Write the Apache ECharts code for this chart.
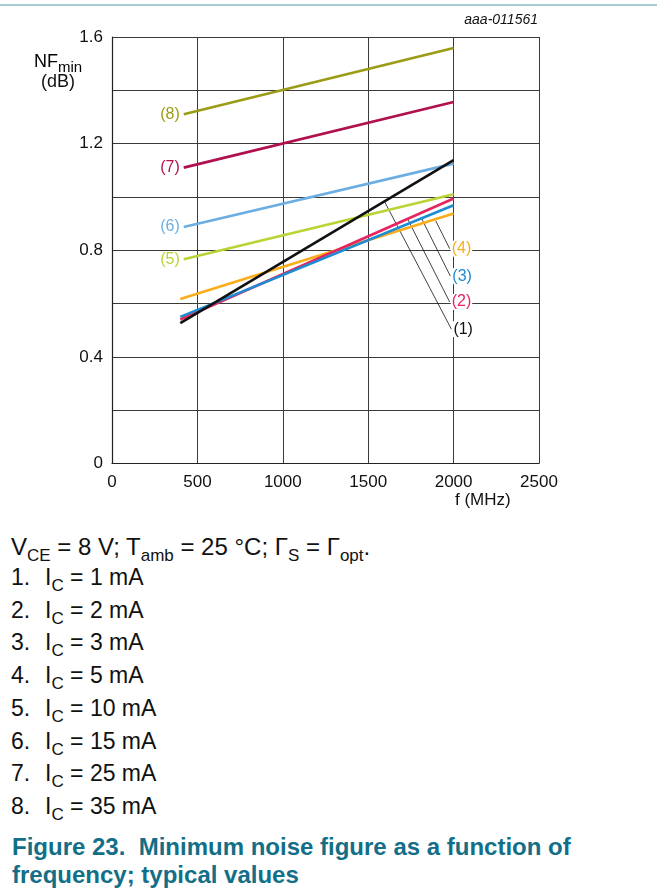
<!DOCTYPE html>
<html>
<head>
<meta charset="utf-8">
<script src="https://cdn.jsdelivr.net/npm/echarts@6/dist/echarts.min.js"></script>
<style>
  html, body { margin: 0; padding: 0; background: #fff; }
  body { width: 657px; height: 891px; position: relative; overflow: hidden; font-family: "Liberation Sans", Arial, sans-serif; color: #111; }
  #topline { position: absolute; left: 0; top: 4px; width: 657px; height: 2px; background: #a7ccd4; }
  #chart { position: absolute; left: 0; top: 0; width: 657px; height: 520px; }
  .t { position: absolute; white-space: nowrap; }
  .note { font-size: 23px; left: 11px; line-height: 24px; }
  .note sub { font-size: 17px; vertical-align: -6px; line-height: 0; }
  .note .n { display: inline-block; width: 34px; }
  .cap { font-size: 24px; font-weight: bold; color: #136f87; left: 12px; line-height: 28px; }
</style>
</head>
<body>
<div id="topline"></div>
<div id="chart"></div>
<div class="t note" style="top:535px; font-size:24px;">V<sub>CE</sub> = 8 V; T<sub>amb</sub> = 25 °C; Γ<sub>S</sub> = Γ<sub>opt</sub>.</div>
<div id="list"></div>
<div class="t cap" style="top:833px;">Figure 23.&nbsp; Minimum noise figure as a function of</div>
<div class="t cap" style="top:861px;">frequency; typical values</div>
<script>
// ---- data ----
const xTicks = [0, 500, 1000, 1500, 2000, 2500];
const yTickLabels = ['0', '0.4', '0.8', '1.2', '1.6'];

const curveNames = ['(1)', '(2)', '(3)', '(4)', '(5)', '(6)', '(7)', '(8)'];
const curve1 = [[400, 0.527], [2000, 1.138]];
const curve2 = [[400, 0.540], [2000, 0.994]];
const curve3 = [[400, 0.550], [2000, 0.969]];
const curve4 = [[400, 0.617], [2000, 0.938]];
const curve5 = [[420, 0.766], [2000, 1.010]];
const curve6 = [[420, 0.887], [2000, 1.125]];
const curve7 = [[420, 1.110], [2000, 1.356]];
const curve8 = [[420, 1.310], [2000, 1.559]];

// leader lines for labels (1)-(4): from curve to label
const leader1 = [[1597, 0.981], [1987, 0.504]];
const leader2 = [[1731, 0.917], [1977, 0.606]];
const leader3 = [[1812, 0.920], [1981, 0.703]];
const leader4 = [[1895, 0.911], [1977, 0.806]];

const legendItems = ['1 mA', '2 mA', '3 mA', '5 mA', '10 mA', '15 mA', '25 mA', '35 mA'];

const colors = ['#111111', '#e8245f', '#1b8cd3', '#fbad19', '#b9d433', '#6caee2', '#b0104e', '#9b9b14'];

// ---- legend text list ----
const list = document.getElementById('list');
legendItems.forEach((v, i) => {
  const d = document.createElement('div');
  d.className = 't note';
  d.style.top = (565 + i * 32.7) + 'px';
  d.innerHTML = '<span class="n">' + (i + 1) + '.</span>I<sub>C</sub> = ' + v;
  list.appendChild(d);
});

const chart = echarts.init(document.getElementById('chart'), null, { renderer: 'canvas' });
const font = '"Liberation Sans", Arial, sans-serif';

const curves = [curve1, curve2, curve3, curve4, curve5, curve6, curve7, curve8];
const leaders = [leader1, leader2, leader3, leader4];

const series = [];
// draw order: 8,7,6,5,4,2,3,1
[7, 6, 5, 4, 3, 1, 2, 0].forEach(i => {
  const c = curves[i];
  const leftLabel = i >= 4;
  series.push({
    type: 'line',
    data: c.map((p, k) => (k === 0 && leftLabel) ? {
      value: p,
      label: { show: true, position: 'left', distance: 3, formatter: curveNames[i], color: colors[i],
        fontSize: 16, fontFamily: font, backgroundColor: '#fff', padding: [0, 1] }
    } : { value: p }),
    showSymbol: true,
    symbol: 'circle',
    symbolSize: 0,
    lineStyle: { color: colors[i], width: 2.6 },
    itemStyle: { color: colors[i] },
    label: { show: false },
    silent: true,
    z: 3
  });
});
leaders.forEach((l, i) => {
  series.push({
    type: 'line',
    data: l,
    showSymbol: false,
    lineStyle: { color: '#111', width: 0.8 },
    endLabel: { show: true, formatter: curveNames[i], color: colors[i], fontSize: 16, fontFamily: font,
      distance: 1, backgroundColor: '#fff', padding: [0, 1] },
    silent: true,
    z: 2
  });
});

chart.setOption({
  animation: false,
  grid: { left: 112, top: 37, width: 427, height: 426.5, show: false },
  xAxis: {
    type: 'value', min: 0, max: 2500, interval: 500,
    axisLine: { show: true, lineStyle: { color: '#222', width: 1.2 } },
    axisTick: { show: false },
    axisLabel: { color: '#111', fontSize: 17, fontFamily: font, margin: 10,
      formatter: v => xTicks.includes(v) ? String(v) : '' },
    splitLine: { show: true, lineStyle: { color: '#3a3a3a', width: 1 } }
  },
  yAxis: {
    type: 'value', min: 0, max: 1.6, interval: 0.2,
    axisLine: { show: true, lineStyle: { color: '#222', width: 1.2 } },
    axisTick: { show: false },
    axisLabel: { color: '#111', fontSize: 17, fontFamily: font, margin: 9,
      formatter: v => { const s = String(+v.toFixed(1)); return yTickLabels.includes(s) ? s : ''; } },
    splitLine: { show: true, lineStyle: { color: '#3a3a3a', width: 1 } }
  },
  graphic: [
    { type: 'text', right: 119, top: 13, style: { text: 'aaa-011561', font: 'italic 14px ' + font, fill: '#111' } },
    { type: 'text', left: 34, top: 53, style: {
        text: '{a|NF}{b|min}', rich: {
          a: { fontSize: 18, fontFamily: font, color: '#111' },
          b: { fontSize: 15, fontFamily: font, color: '#111', padding: [11, 0, 0, 0] }
        } } },
    { type: 'text', left: 41, top: 73, style: { text: '(dB)', font: '18px ' + font, fill: '#111' } },
    { type: 'text', left: 455, top: 492, style: { text: 'f (MHz)', font: '17px ' + font, fill: '#111', align: 'center' } }
  ],
  series: series
});
</script>
</body>
</html>
